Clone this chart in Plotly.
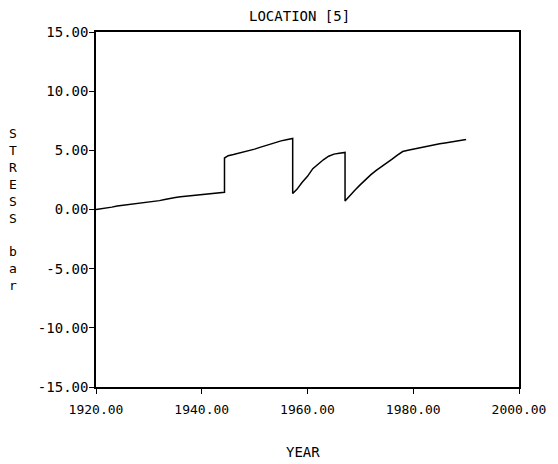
import plotly.graph_objects as go

years = [1920, 1921, 1922, 1923, 1924, 1925, 1926, 1927, 1928, 1929,
         1930, 1931, 1932, 1933, 1934, 1935, 1936, 1937, 1938, 1939,
         1940, 1941, 1942, 1943, 1944, 1944.3,
         1944.3, 1945, 1946, 1947, 1948, 1949, 1950, 1951, 1952, 1953,
         1954, 1955, 1956, 1957.2,
         1957.2, 1958, 1959, 1960, 1961, 1962, 1963, 1964, 1965, 1966, 1967.1,
         1967.1, 1968, 1969, 1970, 1971, 1972, 1973, 1974, 1975, 1976,
         1977, 1978, 1979, 1980, 1981, 1982, 1983, 1984, 1985, 1986,
         1987, 1988, 1989, 1990]
stress = [0.0, 0.05, 0.1, 0.2, 0.3, 0.35, 0.4, 0.45, 0.5, 0.55,
          0.62, 0.68, 0.75, 0.85, 0.95, 1.02, 1.08, 1.12, 1.18, 1.22,
          1.27, 1.32, 1.36, 1.40, 1.44, 1.45,
          4.35, 4.55, 4.65, 4.75, 4.85, 4.95, 5.1, 5.25, 5.4, 5.5,
          5.65, 5.8, 5.9, 6.0,
          1.35, 1.7, 2.3, 2.8, 3.45, 3.85, 4.2, 4.5, 4.68, 4.76, 4.82,
          0.72, 1.2, 1.65, 2.1, 2.55, 2.95, 3.3, 3.6, 3.9, 4.25,
          4.6, 4.9, 5.0, 5.1, 5.2, 5.3, 5.4, 5.47, 5.55, 5.62,
          5.7, 5.78, 5.85, 5.92]

x_ticks = [1920, 1940, 1960, 1980, 2000]
x_tick_labels = ["1920.00", "1940.00", "1960.00", "1980.00", "2000.00"]
y_ticks = [-15, -10, -5, 0, 5, 10, 15]
y_tick_labels = ["-15.00", "-10.00", "-5.00", "0.00", "5.00", "10.00", "15.00"]

title_text = "LOCATION [5]"
x_title = "YEAR"
y_title = "S<br>T<br>R<br>E<br>S<br>S<br><br>b<br>a<br>r"

FONT = "DejaVu Sans Mono"

fig = go.Figure()
fig.add_trace(go.Scatter(x=years, y=stress, mode="lines",
                         line=dict(color="black", width=1.5),
                         showlegend=False, hoverinfo="skip"))

axis_common = dict(showgrid=False, zeroline=False, showline=True,
                   linecolor="black", linewidth=1.5, mirror=True,
                   ticks="outside", ticklen=5, tickcolor="black",
                   ticklabeloverflow="allow")

fig.update_xaxes(range=[1920, 2000], tickvals=x_ticks, ticktext=x_tick_labels,
                 ticklabelstandoff=5,
                 tickfont=dict(family=FONT, size=13, color="black"),
                 **axis_common)
fig.update_yaxes(range=[-15, 15], tickvals=y_ticks, ticktext=y_tick_labels,
                 ticklabelstandoff=-2,
                 tickfont=dict(family=FONT, size=14, color="black"),
                 **axis_common)

fig.update_layout(
    width=550, height=456,
    margin=dict(l=88, r=28, t=24, b=77),
    paper_bgcolor="white", plot_bgcolor="white",
    font=dict(family=FONT, color="black"),
    annotations=[
        dict(text=title_text, x=0.48, y=1, xref="paper", yref="paper",
             xanchor="center", yanchor="bottom", yshift=6, showarrow=False,
             font=dict(family=FONT, size=14, color="black")),
        dict(text=x_title, x=0.49, y=0, xref="paper", yref="paper",
             xanchor="center", yanchor="top", yshift=-55, showarrow=False,
             font=dict(family=FONT, size=14, color="black")),
        dict(text=y_title, x=0, y=0.5, xref="paper", yref="paper",
             xanchor="center", yanchor="middle", xshift=-83, showarrow=False,
             font=dict(family=FONT, size=13, color="black")),
    ],
)

fig.write_html("out.html")
